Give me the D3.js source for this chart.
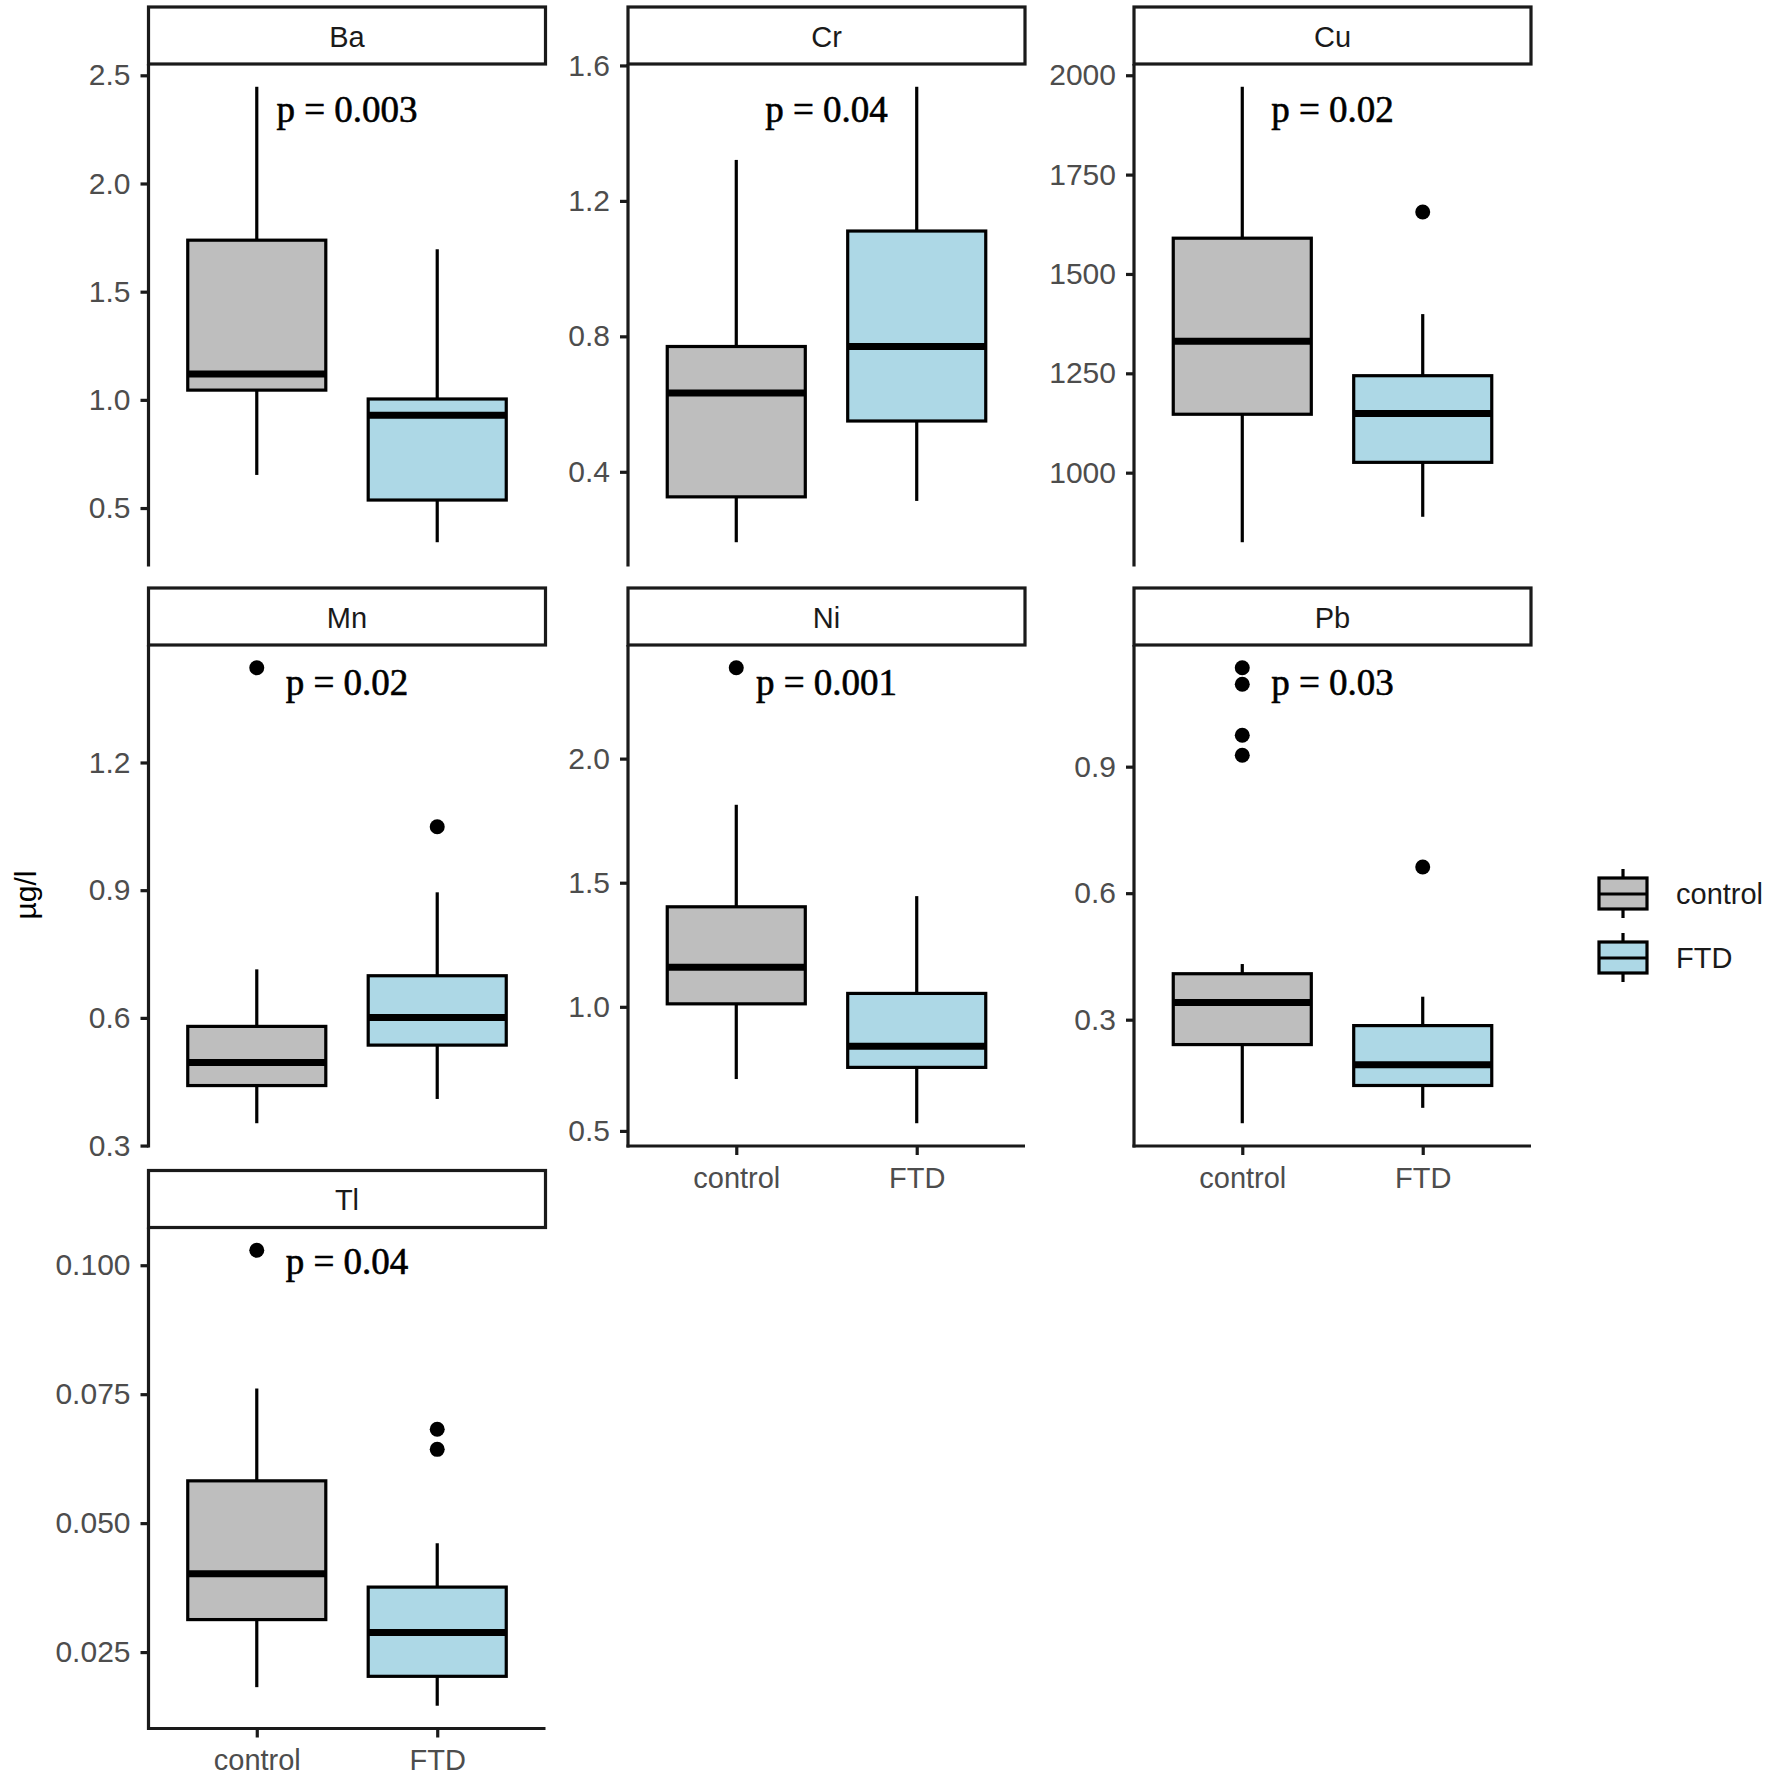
<!DOCTYPE html>
<html>
<head>
<meta charset="utf-8">
<script src="https://cdn.jsdelivr.net/npm/d3@7"></script>
<style>
  html, body { margin: 0; padding: 0; background: #ffffff; }
  svg { display: block; }
</style>
</head>
<body>
<div id="chart"></div>
<script>
// ---------------- data ----------------
const elements = ["Ba", "Cr", "Cu", "Mn", "Ni", "Pb", "Tl"];
const groups = ["control", "FTD"];
const pValues = ["0.003", "0.04", "0.02", "0.02", "0.001", "0.03", "0.04"];

// control group: lower whisker, Q1, median, Q3, upper whisker
const controlLow    = [0.653, 0.192,  825, 0.3525, 0.709, 0.0545, 0.0182];
const controlQ1     = [1.045, 0.326, 1147, 0.441,  1.012, 0.241,  0.0313];
const controlMedian = [1.120, 0.633, 1331, 0.495,  1.159, 0.341,  0.0402];
const controlQ3     = [1.738, 0.770, 1590, 0.580,  1.403, 0.409,  0.0582];
const controlHigh   = [2.447, 1.321, 1971, 0.714,  1.814, 0.432,  0.0761];
const controlOutliers = [[], [], [], [1.4225], [2.366], [0.927, 0.9745, 1.0955, 1.1345], [0.1029]];

// FTD group
const ftdLow    = [0.342, 0.314,  889, 0.4095, 0.531, 0.091, 0.0146];
const ftdQ1     = [0.537, 0.550, 1026, 0.536,  0.756, 0.144, 0.0203];
const ftdMedian = [0.929, 0.770, 1149, 0.601,  0.841, 0.193, 0.0288];
const ftdQ3     = [1.004, 1.111, 1244, 0.699,  1.054, 0.286, 0.0376];
const ftdHigh   = [1.696, 1.537, 1399, 0.895,  1.446, 0.3545, 0.0461];
const ftdOutliers = [[], [], [1656], [1.049], [], [0.662], [0.0643, 0.0682]];

const yTickValues = [
  [0.5, 1.0, 1.5, 2.0, 2.5],
  [0.4, 0.8, 1.2, 1.6],
  [1000, 1250, 1500, 1750, 2000],
  [0.3, 0.6, 0.9, 1.2],
  [0.5, 1.0, 1.5, 2.0],
  [0.3, 0.6, 0.9],
  [0.025, 0.050, 0.075, 0.100]
];
const yTickLabels = [
  ["0.5", "1.0", "1.5", "2.0", "2.5"],
  ["0.4", "0.8", "1.2", "1.6"],
  ["1000", "1250", "1500", "1750", "2000"],
  ["0.3", "0.6", "0.9", "1.2"],
  ["0.5", "1.0", "1.5", "2.0"],
  ["0.3", "0.6", "0.9"],
  ["0.025", "0.050", "0.075", "0.100"]
];
const yTitle = "µg/l";

// ---------------- layout ----------------
const W = 1772, H = 1776;
const colLeft = [148.5, 628, 1134];
const panelW = 397;
const panelTop = [64, 645, 1227.5];
const panelH = 501;
const stripH = 57;
const fills = { control: "#bebebe", FTD: "#add8e6" };
const labelOffsets = [58, 50, 46];
const sansFont = "'Liberation Sans', Arial, sans-serif";
const serifFont = "'Liberation Serif', 'Times New Roman', serif";
const lw = 3.2;

const svg = d3.select("#chart").append("svg")
  .attr("width", W).attr("height", H)
  .attr("viewBox", `0 0 ${W} ${H}`);
svg.append("rect").attr("width", W).attr("height", H).attr("fill", "#ffffff");

elements.forEach((el, i) => {
  const col = i % 3, row = Math.floor(i / 3);
  const x0 = colLeft[col], y0 = panelTop[row];
  const g = svg.append("g").attr("transform", `translate(${x0},${y0})`);

  const stats = {
    control: { low: controlLow[i], q1: controlQ1[i], med: controlMedian[i], q3: controlQ3[i], high: controlHigh[i], out: controlOutliers[i] },
    FTD:     { low: ftdLow[i],     q1: ftdQ1[i],     med: ftdMedian[i],     q3: ftdQ3[i],     high: ftdHigh[i],     out: ftdOutliers[i] }
  };
  const allVals = [];
  groups.forEach(gr => { const s = stats[gr]; allVals.push(s.low, s.high, ...s.out); });
  const lo = d3.min(allVals), hi = d3.max(allVals);
  const pad = (hi - lo) * 0.05;
  const y = d3.scaleLinear().domain([lo - pad, hi + pad]).range([panelH, 0]);
  const x = d3.scalePoint().domain(groups).range([0, panelW]).padding(0.6);
  const step = x.step();
  const bw = step * 0.765;

  // strip
  g.append("rect").attr("x", 0).attr("y", -stripH).attr("width", panelW).attr("height", stripH)
    .attr("fill", "#ffffff").attr("stroke", "#1a1a1a").attr("stroke-width", lw);
  g.append("text").attr("x", panelW / 2).attr("y", -stripH / 2 + 1)
    .attr("text-anchor", "middle").attr("dominant-baseline", "central")
    .attr("font-family", sansFont).attr("font-size", 29).attr("fill", "#1a1a1a").text(el);

  // boxes
  groups.forEach(gr => {
    const s = stats[gr];
    const cx = x(gr);
    g.append("line").attr("x1", cx).attr("x2", cx).attr("y1", y(s.q3)).attr("y2", y(s.high))
      .attr("stroke", "#000").attr("stroke-width", lw);
    g.append("line").attr("x1", cx).attr("x2", cx).attr("y1", y(s.q1)).attr("y2", y(s.low))
      .attr("stroke", "#000").attr("stroke-width", lw);
    g.append("rect").attr("x", cx - bw / 2).attr("y", y(s.q3))
      .attr("width", bw).attr("height", y(s.q1) - y(s.q3))
      .attr("fill", fills[gr]).attr("stroke", "#000").attr("stroke-width", lw);
    g.append("line").attr("x1", cx - bw / 2).attr("x2", cx + bw / 2)
      .attr("y1", y(s.med)).attr("y2", y(s.med))
      .attr("stroke", "#000").attr("stroke-width", 7);
    g.selectAll(null).data(s.out).enter().append("circle")
      .attr("cx", cx).attr("cy", d => y(d)).attr("r", 7.5).attr("fill", "#000");
  });

  // y axis
  const yAxis = d3.axisLeft(y).tickValues(yTickValues[i])
    .tickFormat((d, k) => yTickLabels[i][k]).tickSize(8).tickSizeOuter(0).tickPadding(10);
  const ya = g.append("g").call(yAxis);
  ya.select(".domain").remove();
  ya.selectAll(".tick line").attr("stroke", "#1a1a1a").attr("stroke-width", lw);
  ya.selectAll(".tick text").attr("font-family", sansFont).attr("font-size", 30).attr("fill", "#4d4d4d");
  g.append("line").attr("x1", 0).attr("x2", 0).attr("y1", 0).attr("y2", panelH + 1.5)
    .attr("stroke", "#1a1a1a").attr("stroke-width", lw);

  // x axis only on bottom panel of each column
  const isBottom = (i + 3) >= elements.length;
  if (isBottom) {
    const xAxis = d3.axisBottom(x).tickSize(9).tickSizeOuter(0).tickPadding(12);
    const xa = g.append("g").attr("transform", `translate(0,${panelH})`).call(xAxis);
    xa.select(".domain").remove();
    xa.selectAll(".tick line").attr("stroke", "#1a1a1a").attr("stroke-width", lw);
    xa.selectAll(".tick text").attr("font-family", sansFont).attr("font-size", 29).attr("fill", "#4d4d4d");
    g.append("line").attr("x1", -1.5).attr("x2", panelW).attr("y1", panelH).attr("y2", panelH)
      .attr("stroke", "#1a1a1a").attr("stroke-width", lw);
  }

  // p-value label
  g.append("text").attr("x", panelW / 2).attr("y", labelOffsets[row])
    .attr("text-anchor", "middle").attr("font-family", serifFont)
    .attr("font-size", 37).attr("fill", "#000")
    .attr("stroke", "#000").attr("stroke-width", 0.6)
    .text("p = " + pValues[i]);
});

// y-axis title
svg.append("text").attr("transform", "translate(36,895) rotate(-90)")
  .attr("text-anchor", "middle").attr("font-family", sansFont)
  .attr("font-size", 30).attr("fill", "#000").text(yTitle);

// legend
const legend = svg.append("g").attr("transform", "translate(1599,869)");
groups.forEach((gr, k) => {
  const gy = k * 64;
  const kg = legend.append("g").attr("transform", `translate(0,${gy})`);
  kg.append("line").attr("x1", 24).attr("x2", 24).attr("y1", 0).attr("y2", 49)
    .attr("stroke", "#000").attr("stroke-width", lw);
  kg.append("rect").attr("x", 0).attr("y", 9).attr("width", 48).attr("height", 31)
    .attr("fill", fills[gr]).attr("stroke", "#000").attr("stroke-width", lw);
  kg.append("line").attr("x1", 0).attr("x2", 48).attr("y1", 25).attr("y2", 25)
    .attr("stroke", "#000").attr("stroke-width", lw);
  kg.append("text").attr("x", 77).attr("y", 25).attr("dominant-baseline", "central")
    .attr("font-family", sansFont).attr("font-size", 29).attr("fill", "#1a1a1a").text(gr);
});
</script>
</body>
</html>
